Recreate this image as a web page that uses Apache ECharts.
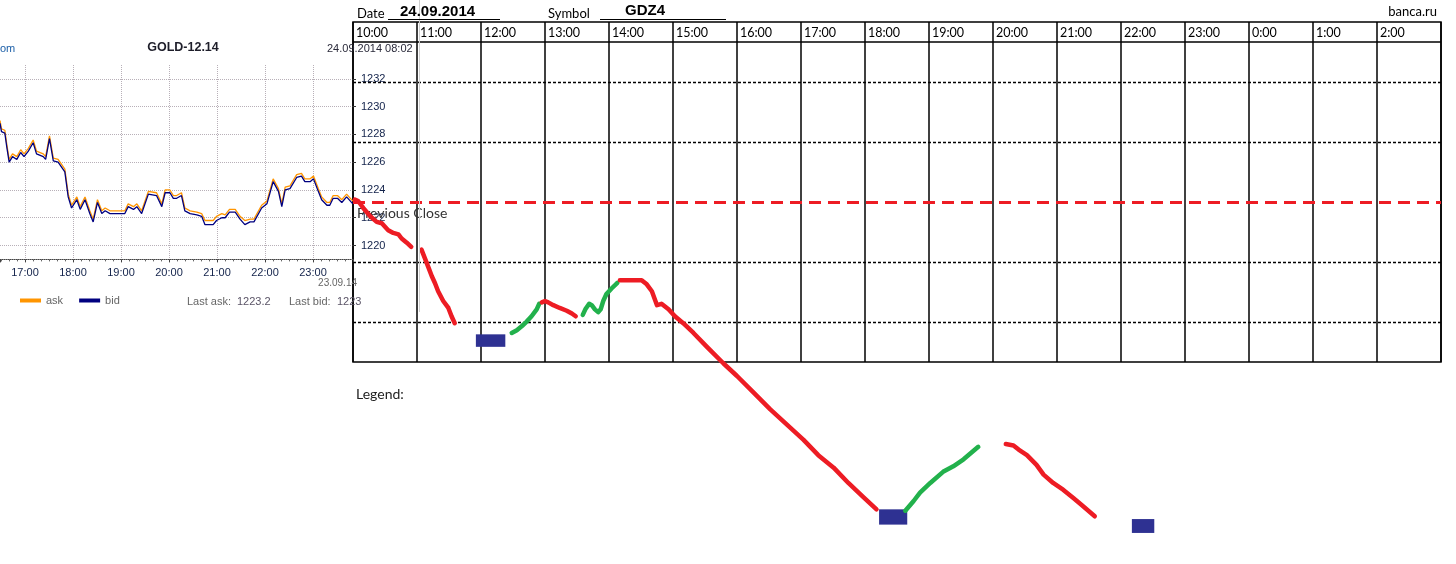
<!DOCTYPE html>
<html><head><meta charset="utf-8">
<script src="https://cdn.jsdelivr.net/npm/echarts@6/dist/echarts.min.js"></script>
<style>html,body{margin:0;padding:0;background:#fff}#c{width:1456px;height:564px}</style>
</head><body><div id="c"></div>
<script>
// ---------- DATA ----------
const leftHourTicks = ['16:00','17:00','18:00','19:00','20:00','21:00','22:00','23:00'];
const tableHours = ['10:00','11:00','12:00','13:00','14:00','15:00','16:00','17:00','18:00','19:00','20:00','21:00','22:00','23:00','0:00','1:00','2:00'];
const instrument = 'GOLD-12.14';
const symbol = 'GDZ4';
const sheetDate = '24.09.2014';
const bid = [[16.48,1228.8],[16.51,1228.2],[16.58,1228.1],[16.62,1227.1],[16.67,1226.0],[16.74,1226.4],[16.83,1226.2],[16.91,1226.7],[16.98,1226.4],[17.07,1226.8],[17.17,1227.4],[17.24,1226.6],[17.38,1226.4],[17.43,1226.2],[17.51,1227.7],[17.59,1226.1],[17.69,1226.0],[17.83,1225.3],[17.90,1223.5],[17.97,1222.7],[18.08,1223.3],[18.15,1222.6],[18.25,1223.3],[18.35,1222.3],[18.42,1221.7],[18.51,1223.1],[18.60,1222.3],[18.67,1222.5],[18.77,1222.3],[19.08,1222.3],[19.15,1222.8],[19.26,1222.6],[19.33,1222.8],[19.43,1222.3],[19.57,1223.7],[19.74,1223.6],[19.85,1222.8],[19.92,1223.8],[20.02,1223.8],[20.09,1223.4],[20.16,1223.4],[20.26,1223.6],[20.33,1222.5],[20.44,1222.3],[20.58,1222.2],[20.68,1222.1],[20.75,1221.5],[20.92,1221.5],[20.99,1221.8],[21.10,1222.0],[21.17,1222.0],[21.26,1222.4],[21.38,1222.4],[21.48,1221.9],[21.58,1221.5],[21.69,1221.7],[21.77,1221.7],[21.93,1222.7],[22.04,1223.0],[22.17,1224.6],[22.28,1223.9],[22.35,1222.8],[22.42,1224.0],[22.52,1224.1],[22.66,1224.9],[22.76,1225.0],[22.83,1224.6],[22.94,1224.6],[23.01,1224.8],[23.11,1223.9],[23.18,1223.3],[23.29,1222.9],[23.35,1222.9],[23.42,1223.4],[23.51,1223.4],[23.60,1223.1],[23.70,1223.5],[23.83,1223.0]];
const ask = [[16.48,1229.0],[16.51,1228.4],[16.58,1228.3],[16.62,1227.3],[16.67,1226.2],[16.74,1226.6],[16.83,1226.4],[16.91,1226.9],[16.98,1226.6],[17.07,1227.0],[17.17,1227.6],[17.24,1226.8],[17.38,1226.6],[17.43,1226.4],[17.51,1227.9],[17.59,1226.3],[17.69,1226.2],[17.83,1225.5],[17.90,1223.7],[17.97,1222.9],[18.08,1223.5],[18.15,1222.8],[18.25,1223.5],[18.35,1222.5],[18.42,1221.9],[18.51,1223.3],[18.60,1222.5],[18.67,1222.7],[18.77,1222.5],[19.08,1222.5],[19.15,1223.0],[19.26,1222.8],[19.33,1223.0],[19.43,1222.5],[19.57,1223.9],[19.74,1223.8],[19.85,1223.0],[19.92,1224.0],[20.02,1224.0],[20.09,1223.6],[20.16,1223.6],[20.26,1223.8],[20.33,1222.7],[20.44,1222.5],[20.58,1222.4],[20.68,1222.3],[20.75,1221.8],[20.92,1221.8],[20.99,1222.1],[21.10,1222.3],[21.17,1222.2],[21.26,1222.6],[21.38,1222.6],[21.48,1222.1],[21.58,1221.8],[21.69,1221.9],[21.77,1221.9],[21.93,1222.9],[22.04,1223.2],[22.17,1224.8],[22.28,1224.1],[22.35,1223.0],[22.42,1224.2],[22.52,1224.3],[22.66,1225.1],[22.76,1225.2],[22.83,1224.8],[22.94,1224.8],[23.01,1225.0],[23.11,1224.1],[23.18,1223.5],[23.29,1223.1],[23.35,1223.1],[23.42,1223.6],[23.51,1223.6],[23.60,1223.3],[23.70,1223.7],[23.83,1223.2]];
const prevClose = 1223.1;
const red1 = [[10.03,1223.3],[10.08,1223.2],[10.16,1222.7],[10.27,1222.1],[10.37,1221.7],[10.45,1221.6],[10.55,1221.1],[10.63,1220.9],[10.71,1220.8],[10.76,1220.5],[10.84,1220.2],[10.91,1219.9]];
const red2 = [[11.07,1219.7],[11.13,1219.0],[11.18,1218.4],[11.23,1217.8],[11.28,1217.3],[11.33,1216.7],[11.41,1216.0],[11.49,1215.5],[11.54,1214.9],[11.59,1214.4]];
const green1 = [[12.48,1213.7],[12.56,1213.9],[12.64,1214.2],[12.71,1214.5],[12.79,1214.9],[12.87,1215.4],[12.91,1215.8]];
const red3 = [[12.95,1215.9],[13.00,1216.0],[13.05,1215.9],[13.13,1215.7],[13.23,1215.5],[13.34,1215.3],[13.42,1215.1],[13.48,1214.9]];
const green2 = [[13.59,1215.0],[13.63,1215.4],[13.69,1215.8],[13.73,1215.7],[13.78,1215.4],[13.83,1215.2],[13.87,1215.4],[13.91,1216.0],[13.96,1216.5],[14.04,1216.9],[14.13,1217.3]];
const red4 = [[14.17,1217.5],[14.33,1217.5],[14.51,1217.5],[14.59,1217.2],[14.67,1216.7],[14.75,1215.7],[14.82,1215.8],[14.93,1215.4],[15.03,1214.9],[15.16,1214.4],[15.32,1213.7],[15.53,1212.7],[15.79,1211.5],[16.00,1210.6],[16.26,1209.4],[16.52,1208.2],[16.78,1207.1],[17.04,1206.0],[17.27,1204.9],[17.51,1204.0],[17.74,1202.9],[17.97,1201.9],[18.18,1201.0]];
const green3 = [[18.63,1200.9],[18.76,1201.6],[18.86,1202.2],[19.02,1202.9],[19.22,1203.7],[19.38,1204.1],[19.54,1204.6],[19.77,1205.5]];
const red5 = [[20.20,1205.7],[20.32,1205.6],[20.40,1205.3],[20.53,1204.9],[20.68,1204.2],[20.79,1203.5],[20.94,1202.9],[21.10,1202.4],[21.26,1201.8],[21.39,1201.3],[21.59,1200.5]];
// boxes: [hourStart, hourEnd, priceLow, priceHigh]
const boxes = [[11.92,12.38,1212.7,1213.6],[18.22,18.66,1199.9,1201.0],[22.17,22.52,1199.3,1200.3]];
// table row separators (row units, 17 rows tall sheet)
const tableRowsSolid = [1];
const tableRowsDashed = [3, 6, 12, 15];

// ---------- STYLE ----------
const RED = '#ED1C24', GREEN = '#22B14C', BLUE = '#2E3192';
const SANS = '"Liberation Sans", Arial, sans-serif';
const HAND = 'Lato, "Open Sans", sans-serif';

const segs = [[red1,RED],[red2,RED],[green1,GREEN],[red3,RED],[green2,GREEN],[red4,RED],[green3,GREEN],[red5,RED]];

function txt(x, y, text, font, fill, align) {
  return {type:'text', x:x, y:y, z:100, style:{text:text, font:font, fill:fill, align:align||'left', verticalAlign:'middle', textAlign:align||'left', textVerticalAlign:'middle'}};
}
function ln(x1,y1,x2,y2,stroke,w){
  return {type:'line', z:50, shape:{x1:x1,y1:y1,x2:x2,y2:y2}, style:{stroke:stroke, lineWidth:w}};
}

const lastAsk = ask[ask.length-1][1];
const lastBid = bid[bid.length-1][1];

const option = {
  animation:false,
  backgroundColor:'#fff',
  grid:[
    {left:0, top:65, width:353, height:194.4},
    {left:353, top:22, width:1088, height:340, show:true, borderColor:'#000', borderWidth:1.5, backgroundColor:'transparent'},
    {left:353, top:51, width:1088, height:500}
  ],
  xAxis:[
    {gridIndex:0, type:'value', min:16.4792, max:23.8333, splitNumber:7,
     axisLine:{show:true, lineStyle:{color:'#444', type:'dotted', width:1}},
     axisTick:{show:true, length:3, lineStyle:{color:'#444'}},
     minorTick:{show:true, splitNumber:6, length:2, lineStyle:{color:'#666'}},
     axisLabel:{color:'#12224a', fontFamily:SANS, fontSize:11, margin:8, showMinLabel:false, showMaxLabel:false,
       formatter:v=> Number.isInteger(v) ? (leftHourTicks[v-16]||'') : ''},
     splitLine:{show:true, showMinLine:false, showMaxLine:false, lineStyle:{color:'#b8b0b8', type:'dotted', width:1}}},
    {gridIndex:1, type:'value', position:'top', min:10, max:27, interval:1,
     axisLine:{show:false}, axisTick:{show:false},
     axisLabel:{inside:true, align:'left', margin:4, padding:[0,0,0,3], color:'#000', fontFamily:HAND, fontSize:12.5,
       showMaxLabel:false, formatter:v=> tableHours[v-10]||''},
     splitLine:{show:true, lineStyle:{color:'#000', width:1.5}}},
    {gridIndex:2, type:'value', min:10, max:27, show:false}
  ],
  yAxis:[
    {gridIndex:0, type:'value', position:'right', min:1219, max:1233, splitNumber:7,
     axisLine:{show:false}, axisTick:{show:true, length:3, lineStyle:{color:'#333'}},
     axisLabel:{color:'#12224a', fontFamily:SANS, fontSize:11, margin:8, showMinLabel:false, showMaxLabel:false,
       formatter:v=> String(v)},
     splitLine:{show:true, showMinLine:false, showMaxLine:false, lineStyle:{color:'#b8b0b8', type:'dotted', width:1}}},
    {gridIndex:1, type:'value', inverse:true, min:0, max:17, show:false},
    {gridIndex:2, type:'value', min:1198, max:1234, show:false}
  ],
  legend:{data:['ask','bid'], left:20, top:295, padding:0, itemWidth:21, itemHeight:4, itemGap:16, icon:'rect',
    textStyle:{color:'#666', fontFamily:SANS, fontSize:11}},
  series:[
    {name:'ask', type:'line', xAxisIndex:0, yAxisIndex:0, data:ask, symbol:'none', lineStyle:{color:'#FF9500', width:1.3}, itemStyle:{color:'#FF9500'}},
    {name:'bid', type:'line', xAxisIndex:0, yAxisIndex:0, data:bid, symbol:'none', lineStyle:{color:'#000080', width:1.3}, itemStyle:{color:'#000080'}},
    {name:'rows', type:'line', xAxisIndex:1, yAxisIndex:1, data:[], silent:true,
     markLine:{silent:true, symbol:'none', label:{show:false}, animation:false,
       data: tableRowsSolid.map(v=>({yAxis:v, lineStyle:{color:'#000', width:1.5, type:'solid'}}))
         .concat(tableRowsDashed.map(v=>({yAxis:v, lineStyle:{color:'#000', width:1.3, type:[3,2]}})))}},
    {name:'prev', type:'line', xAxisIndex:2, yAxisIndex:2, data:[], silent:true,
     markLine:{silent:true, symbol:'none', animation:false,
       label:{show:true, position:'insideStartBottom', formatter:'Previous Close', color:'#333', fontFamily:HAND, fontSize:14, distance:[4,4]},
       lineStyle:{color:RED, width:3, type:[12,7]},
       data:[{yAxis:prevClose}]},
     markArea:{silent:true, itemStyle:{color:BLUE, opacity:1},
       data: boxes.map(b=>[{coord:[b[0], b[3]]},{coord:[b[1], b[2]]}])}}
  ].concat(segs.map((s,i)=>({name:'f'+i, type:'line', xAxisIndex:2, yAxisIndex:2, data:s[0], symbol:'none', z:5,
     lineStyle:{color:s[1], width:4.5, cap:'round', join:'round'}}))),
  graphic:[
    txt(0, 49, 'om', '11px '+SANS, '#1c5fa8'),
    txt(183, 48, instrument, 'bold 12.5px '+SANS, '#1e1e2a', 'center'),
    txt(327, 49, '24.09.2014 08:02', '11px '+SANS, '#2a2a3a'),
    txt(357, 283, '23.09.14', '10px '+SANS, '#666', 'right'),
    txt(187, 302, 'Last ask:', '11px '+SANS, '#666'),
    txt(237, 302, String(lastAsk), '11px '+SANS, '#5a5466'),
    txt(289, 302, 'Last bid:', '11px '+SANS, '#666'),
    txt(337, 302, String(lastBid), '11px '+SANS, '#5a5466'),
    ln(419.5, 0, 419.5, 312, '#cfcfcf', 1),
    txt(357, 14, 'Date', '13px '+HAND, '#000'),
    txt(400, 12, sheetDate, 'bold 15px '+SANS, '#000'),
    ln(388, 19.5, 500, 19.5, '#000', 1),
    txt(548, 14, 'Symbol', '13px '+HAND, '#000'),
    txt(625, 11, symbol, 'bold 15px '+SANS, '#000'),
    ln(600, 19.5, 726, 19.5, '#000', 1),
    txt(1437, 12, 'banca.ru', '13px '+HAND, '#000', 'right'),
    txt(356, 394, 'Legend:', '14px '+HAND, '#222')
  ]
};
echarts.init(document.getElementById('c'), null, {renderer:'canvas'}).setOption(option);
</script></body></html>
